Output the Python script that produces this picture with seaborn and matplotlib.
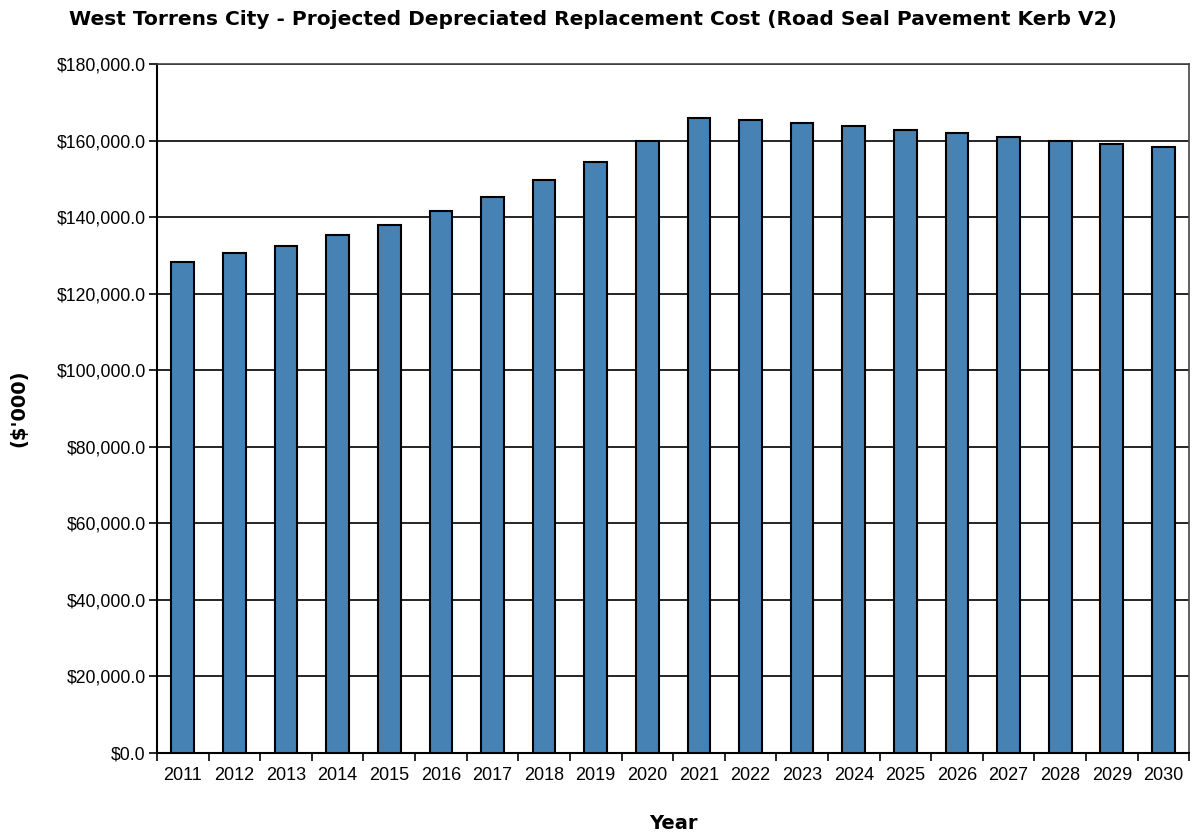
import pandas as pd
import numpy as np
import matplotlib.pyplot as plt
import matplotlib.ticker as mticker
import seaborn as sns

years = [str(y) for y in range(2011, 2031)]
cost = [128400, 130700, 132500, 135300, 138000, 141600, 145200, 149800, 154300, 160000,
        166000, 165500, 164600, 163750, 162800, 161900, 161000, 160000, 159200, 158300]

df = pd.DataFrame({'year': years, 'cost': cost})

sns.set_style('white')
plt.rcParams['font.family'] = ['Liberation Sans', 'DejaVu Sans']
plt.rcParams['text.color'] = 'black'
plt.rcParams['xtick.color'] = 'black'
plt.rcParams['ytick.color'] = 'black'
plt.rcParams['axes.labelcolor'] = 'black'

fig = plt.figure(figsize=(11.94, 8.32), dpi=100)
ax = fig.add_axes([0.1315, 0.095, 0.8645, 0.828])

sns.barplot(data=df, x='year', y='cost', color='#4682B4', width=0.44,
            edgecolor='black', linewidth=1.5, saturation=1, ax=ax, zorder=3)

ax.set_ylim(0, 180000)
ax.set_xlim(-0.5, len(years) - 0.5)
ax.yaxis.set_major_locator(mticker.MultipleLocator(20000))
ax.yaxis.set_major_formatter(mticker.FuncFormatter(lambda v, p: f'${v:,.1f}'))
ax.grid(axis='y', color='black', linewidth=1.2, zorder=0)
ax.set_axisbelow(True)

# tick marks between categories, labels centred under bars
ax.xaxis.set_minor_locator(mticker.FixedLocator(np.arange(-0.5, len(years), 1)))
ax.tick_params(axis='x', which='major', length=0, pad=10, labelsize=13)
ax.tick_params(axis='x', which='minor', length=6, width=1.2, color='black', bottom=True)
ax.tick_params(axis='y', length=6, width=1.2, color='black', left=True, labelsize=12.7, pad=2)

for s in ['left', 'bottom']:
    ax.spines[s].set_color('black')
    ax.spines[s].set_linewidth(1.5)
for s in ['top', 'right']:
    ax.spines[s].set_color('#444444')
    ax.spines[s].set_linewidth(1.2)

ax.set_xlabel('Year', fontsize=14, fontweight='bold', family='DejaVu Sans', labelpad=22)
ax.set_ylabel("($'000)", fontsize=14, fontweight='bold', family='DejaVu Sans', labelpad=20)
fig.text(0.497, 0.977, 'West Torrens City - Projected Depreciated Replacement Cost (Road Seal Pavement Kerb V2)',
         ha='center', va='center', fontsize=14.5, fontweight='bold', family='DejaVu Sans')

plt.savefig('out.png', dpi=100)
